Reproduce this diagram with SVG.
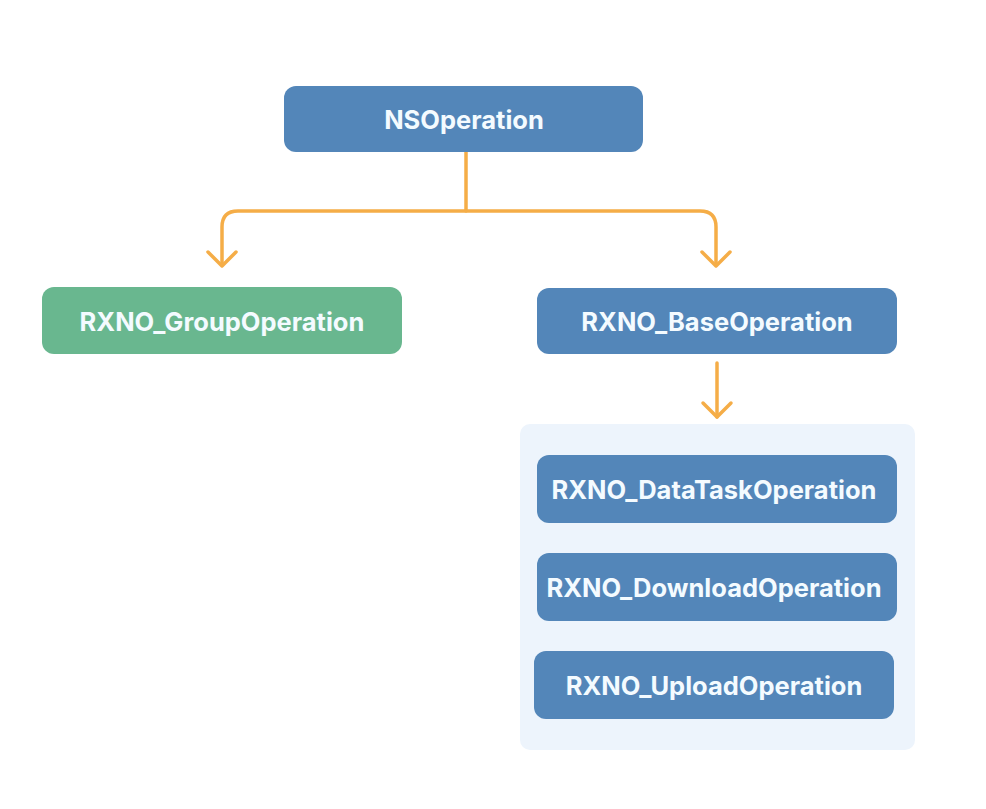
<svg xmlns="http://www.w3.org/2000/svg" width="986" height="809" viewBox="0 0 986 809">
<style>
.box{fill:#5386b9}
.green{fill:#69b78f}
.lbl{font-family:Inter,"Open Sans","Liberation Sans",sans-serif;font-weight:bold;font-size:25.5px;fill:#f4fbff;text-anchor:middle;dominant-baseline:central}
.con{fill:none;stroke:#f5ad47;stroke-width:3.5;stroke-linecap:round;stroke-linejoin:round}
</style>
<rect width="986" height="809" fill="#ffffff"/>
<g id="container">
<rect x="520" y="424" width="395" height="326" rx="10" fill="#edf4fc"/>
</g>
<g id="connectors">
<path class="con" d="M466 152 V211 H238 Q222 211 222 227 V265"/>
<path class="con" d="M466 211 H700 Q716 211 716 227 V265"/>
<path class="con" d="M208 252 L222 266 L236 252"/>
<path class="con" d="M702 252 L716 266 L730 252"/>
<path class="con" d="M717 363 V417"/>
<path class="con" d="M703 403 L717 417 L731 403"/>
</g>
<g id="NSOperation">
<rect class="box" x="284" y="86" width="359" height="66" rx="12"/>
<text class="lbl" x="464" y="119">NSOperation</text>
</g>
<g id="RXNO_GroupOperation">
<rect class="green" x="42" y="287" width="360" height="67" rx="12"/>
<text class="lbl" x="222" y="321">RXNO_GroupOperation</text>
</g>
<g id="RXNO_BaseOperation">
<rect class="box" x="537" y="288" width="360" height="66" rx="12"/>
<text class="lbl" x="717" y="321">RXNO_BaseOperation</text>
</g>
<g id="RXNO_DataTaskOperation">
<rect class="box" x="537" y="455" width="360" height="68" rx="12"/>
<text class="lbl" x="714" y="489">RXNO_DataTaskOperation</text>
</g>
<g id="RXNO_DownloadOperation">
<rect class="box" x="537" y="553" width="360" height="68" rx="12"/>
<text class="lbl" x="714" y="587">RXNO_DownloadOperation</text>
</g>
<g id="RXNO_UploadOperation">
<rect class="box" x="534" y="651" width="360" height="68" rx="12"/>
<text class="lbl" x="714" y="685">RXNO_UploadOperation</text>
</g>
</svg>
